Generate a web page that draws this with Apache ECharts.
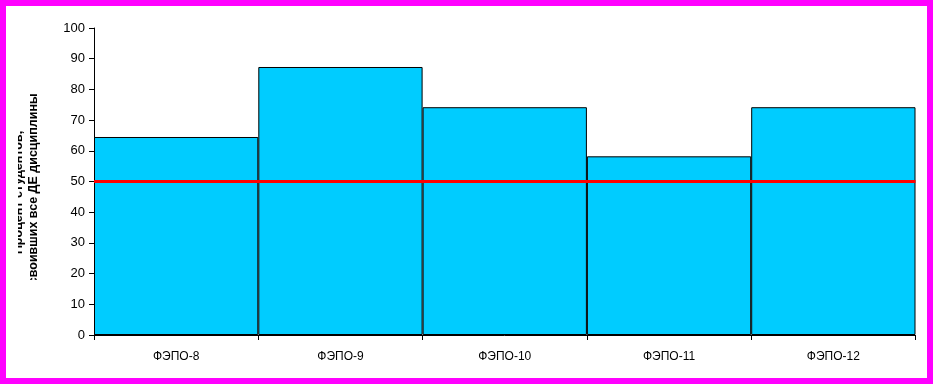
<!DOCTYPE html>
<html><head><meta charset="utf-8">
<script src="https://cdn.jsdelivr.net/npm/echarts@6/dist/echarts.min.js"></script>
<style>html,body{margin:0;padding:0;background:#fff}#c{width:933px;height:385px}</style>
</head><body><div id="c"></div>
<script>
var categories = ['ФЭПО-8','ФЭПО-9','ФЭПО-10','ФЭПО-11','ФЭПО-12'];
var values = [64.5, 87.3, 74.2, 58.2, 74.2];
var threshold = 50;
var yTitleLine1 = 'Процент студентов,';
var yTitleLine2 = 'освоивших все ДЕ дисциплины';

var chart = echarts.init(document.getElementById('c'), null, {renderer:'canvas'});
chart.setOption({
  animation:false,
  backgroundColor:'#fff',
  grid:{left:94, right:17.5, top:28, bottom:50},
  xAxis:{type:'category', data:categories,
    axisLine:{lineStyle:{color:'#000',width:1}},
    axisTick:{show:true, alignWithLabel:false, length:5, lineStyle:{color:'#000'}},
    axisLabel:{color:'#000', fontFamily:'Liberation Sans', fontSize:12, margin:16}
  },
  yAxis:{type:'value', min:0, max:100, interval:10,
    axisLine:{show:true, lineStyle:{color:'#000',width:1}},
    axisTick:{show:true, length:5, lineStyle:{color:'#000'}},
    splitLine:{show:false},
    axisLabel:{color:'#000', fontFamily:'Liberation Sans', fontSize:13, margin:9}
  },
  series:[{type:'bar', data:values, barCategoryGap:'0%',
    itemStyle:{color:'#00CCFF', borderColor:'#000', borderWidth:1},
    markLine:{silent:true, symbol:'none', label:{show:false},
      lineStyle:{color:'#FF0000', width:3, type:'solid'},
      data:[{yAxis:threshold}]}
  }],
  graphic:[
    {type:'text', x:18.5, y:192.5, rotation:Math.PI/2, z:10,
      style:{text:yTitleLine1, font:'bold 12.5px "Liberation Sans"', fill:'#000', align:'center', verticalAlign:'middle'}},
    {type:'text', x:34, y:192.5, rotation:Math.PI/2, z:10,
      style:{text:yTitleLine2, font:'bold 12.5px "Liberation Sans"', fill:'#000', align:'center', verticalAlign:'middle'}},
    {type:'rect', z:20, shape:{x:0, y:0, width:18, height:385}, style:{fill:'#fff'}},
    {type:'rect', z:20, shape:{x:0, y:280, width:50, height:105}, style:{fill:'#fff'}},
    {type:'rect', z:30, shape:{x:3, y:3, width:927, height:378}, style:{fill:'none', stroke:'#FF00FF', lineWidth:6}}
  ]
});
</script></body></html>
